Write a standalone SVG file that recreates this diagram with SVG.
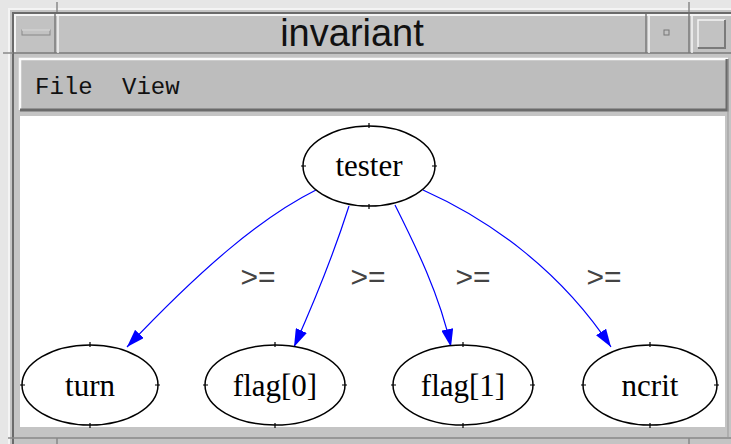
<svg xmlns="http://www.w3.org/2000/svg" width="731" height="444" viewBox="0 0 731 444">
<style>
.node ellipse{fill:#ffffff;stroke:#000;stroke-width:1.5}
.tick{stroke:#000;stroke-width:1.2}
.lbl{font-family:"Liberation Serif","Times New Roman",serif;font-size:31px;fill:#000;text-anchor:middle}
.edge{fill:none;stroke:#0000ff;stroke-width:1.2}
.elbl{font-family:"Liberation Sans",Arial,sans-serif;font-size:30px;fill:#444;text-anchor:middle}
.dark{stroke:#6a6a6a;stroke-width:2;fill:none}
.light{stroke:#f4f4f4;stroke-width:2;fill:none}
</style>
<defs>
<marker id="ah" viewBox="0 0 18 12" refX="18" refY="6" markerWidth="18" markerHeight="12" markerUnits="userSpaceOnUse" orient="auto">
<path d="M0,0 L18,6 L0,12 Z" fill="#0000ff"/>
</marker>
</defs>
<!-- window frame -->
<rect x="0" y="0" width="731" height="444" fill="#e6e6e6"/>
<rect x="8" y="8" width="723" height="436" fill="#c4c4c4"/>
<path class="light" d="M9,444 V9 H731"/>
<path class="dark" d="M13,444 V13 H731" stroke-width="1"/>
<line x1="57" y1="2" x2="57" y2="12" stroke="#888" stroke-width="1.5"/>
<line x1="689" y1="2" x2="689" y2="12" stroke="#888" stroke-width="1.5"/>
<line x1="3" y1="53" x2="13" y2="53" stroke="#888" stroke-width="1.5"/>
<!-- title bar -->
<rect x="14" y="14" width="717" height="39" fill="#c2c2c2"/>
<path class="light" d="M15,52 V15 H731"/>
<line x1="14" y1="53" x2="731" y2="53" stroke="#7a7a7a" stroke-width="1.5"/>
<line x1="55" y1="14" x2="55" y2="53" stroke="#7a7a7a" stroke-width="1.5"/>
<line x1="58" y1="14" x2="58" y2="53" stroke="#f4f4f4" stroke-width="1.5"/>
<line x1="646" y1="14" x2="646" y2="53" stroke="#7a7a7a" stroke-width="1.5"/>
<line x1="649" y1="14" x2="649" y2="53" stroke="#f4f4f4" stroke-width="1.5"/>
<line x1="689" y1="14" x2="689" y2="53" stroke="#7a7a7a" stroke-width="1.5"/>
<line x1="692" y1="14" x2="692" y2="53" stroke="#f4f4f4" stroke-width="1.5"/>
<rect x="22" y="30" width="28" height="5" fill="#c2c2c2" stroke="#888" stroke-width="1"/>
<line x1="22" y1="30" x2="50" y2="30" stroke="#f4f4f4" stroke-width="1"/>
<rect x="664" y="30" width="5" height="5" fill="#c2c2c2" stroke="#777" stroke-width="1"/>
<path d="M698,47 V20 H725" fill="none" stroke="#f4f4f4" stroke-width="1.5"/>
<path d="M698,48 H725 V20" fill="none" stroke="#7a7a7a" stroke-width="2"/>
<text x="352" y="46" font-family="'Liberation Sans',Arial,sans-serif" font-size="38" fill="#111" text-anchor="middle">invariant</text>
<!-- menubar -->
<rect x="20" y="59" width="708" height="51" fill="#bdbdbd"/>
<path d="M20,110 V59 H728" fill="none" stroke="#fafafa" stroke-width="2.5"/>
<path d="M20,110 H727 V59" fill="none" stroke="#6a6a6a" stroke-width="3"/>
<text x="35" y="94" font-family="'Liberation Mono','Courier New',monospace" font-size="24" fill="#111">File</text>
<text x="122" y="94" font-family="'Liberation Mono','Courier New',monospace" font-size="24" fill="#111">View</text>
<!-- canvas -->
<rect x="20" y="116" width="705" height="311" fill="#ffffff"/>
<line x1="728" y1="59" x2="728" y2="437" stroke="#999" stroke-width="1"/>
<line x1="8" y1="438" x2="731" y2="438" stroke="#888" stroke-width="1.5"/>
<line x1="57" y1="438" x2="57" y2="444" stroke="#888" stroke-width="1.5"/>
<line x1="689" y1="438" x2="689" y2="444" stroke="#888" stroke-width="1.5"/>
<!-- connectors -->
<g id="edges">
<path class="edge" marker-end="url(#ah)" d="M316,190 C260,218 200,270 127,347"/>
<path class="edge" marker-end="url(#ah)" d="M349,206 C335,250 315,300 294,347"/>
<path class="edge" marker-end="url(#ah)" d="M395,205 C415,245 440,295 451,347"/>
<path class="edge" marker-end="url(#ah)" d="M423,190 C490,220 560,270 611,347"/>
<text class="elbl" x="258" y="287">&gt;=</text>
<text class="elbl" x="368" y="287">&gt;=</text>
<text class="elbl" x="473" y="287">&gt;=</text>
<text class="elbl" x="604" y="287">&gt;=</text>
</g>
<!-- nodes -->
<g id="tester" class="node">
<ellipse cx="369" cy="166" rx="66" ry="40"/>
<path class="tick" d="M369,123 v5 M369,204 v5 M301,166 h5 M432,166 h5"/>
<text class="lbl" x="369" y="176">tester</text>
</g>
<g id="turn" class="node">
<ellipse cx="90" cy="385" rx="68" ry="40"/>
<path class="tick" d="M90,342 v5 M90,423 v5 M20,385 h5 M155,385 h5"/>
<text class="lbl" x="90" y="396">turn</text>
</g>
<g id="flag0" class="node">
<ellipse cx="275" cy="385" rx="70" ry="40"/>
<path class="tick" d="M275,342 v5 M275,423 v5 M203,385 h5 M342,385 h5"/>
<text class="lbl" x="275" y="396">flag[0]</text>
</g>
<g id="flag1" class="node">
<ellipse cx="463" cy="385" rx="70" ry="40"/>
<path class="tick" d="M463,342 v5 M463,423 v5 M391,385 h5 M530,385 h5"/>
<text class="lbl" x="463" y="396">flag[1]</text>
</g>
<g id="ncrit" class="node">
<ellipse cx="650" cy="385" rx="67" ry="40"/>
<path class="tick" d="M650,342 v5 M650,423 v5 M581,385 h5 M714,385 h5"/>
<text class="lbl" x="650" y="396">ncrit</text>
</g>
</svg>
